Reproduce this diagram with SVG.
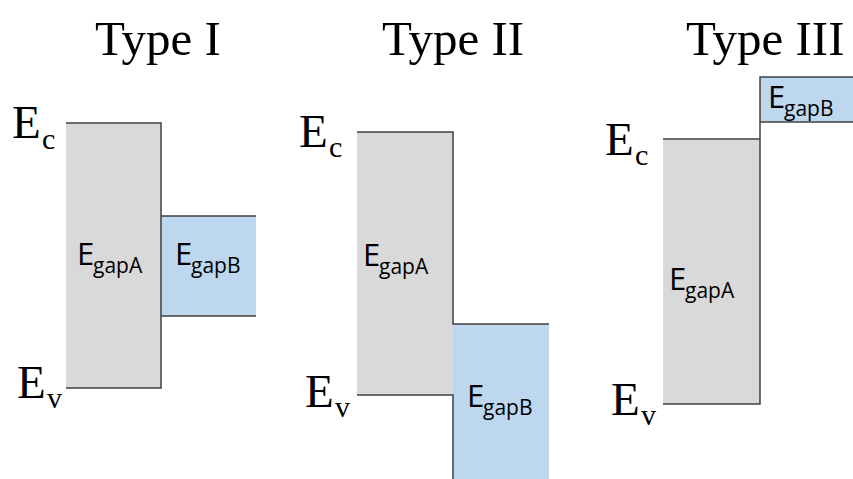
<svg xmlns="http://www.w3.org/2000/svg" width="853" height="479" viewBox="0 0 853 479">
<style>
.title{font-family:"Liberation Serif",serif;font-size:49px;fill:#000}
.lvl{font-family:"Liberation Serif",serif;font-size:47px;fill:#000}
.lsub{font-family:"Liberation Serif",serif;font-size:30px;fill:#000}
.gap{font-family:"Open Sans","Liberation Sans",sans-serif;font-size:31px;fill:#000}
.gsub{font-family:"Open Sans","Liberation Sans",sans-serif;font-size:21px;fill:#000}
.gA{fill:#d9d9d9}
.gB{fill:#bdd7ee}
.edge{fill:none;stroke:#404040;stroke-width:1.5}
</style>
<rect width="853" height="479" fill="#fff"/>

<g id="type1">
  <text class="title" x="95" y="55">Type I</text>
  <rect class="gA" x="66" y="123" width="95" height="265"/>
  <rect class="gB" x="161" y="216" width="95" height="100"/>
  <path class="edge" d="M66 123H161V216H256M161 216V316H256M161 316V388H66"/>
  <text class="lvl" x="12" y="138">E</text><text class="lsub" x="42" y="149">c</text>
  <text class="lvl" x="17" y="398">E</text><text class="lsub" x="47" y="408">v</text>
  <text class="gap" x="77" y="265">E</text><text class="gsub" x="93" y="273">gapA</text>
  <text class="gap" x="175" y="265">E</text><text class="gsub" x="191" y="273">gapB</text>
</g>

<g id="type2">
  <text class="title" x="382" y="55">Type II</text>
  <rect class="gA" x="357" y="132" width="96" height="263"/>
  <rect class="gB" x="453" y="324" width="96" height="155"/>
  <path class="edge" d="M357 132H453V324H549M357 395H453V479"/>
  <text class="lvl" x="299" y="147">E</text><text class="lsub" x="329" y="157">c</text>
  <text class="lvl" x="305" y="407">E</text><text class="lsub" x="335" y="417">v</text>
  <text class="gap" x="363" y="266">E</text><text class="gsub" x="379" y="274">gapA</text>
  <text class="gap" x="467" y="407">E</text><text class="gsub" x="483" y="415">gapB</text>
</g>

<g id="type3">
  <text class="title" x="686" y="55">Type III</text>
  <rect class="gA" x="663" y="139" width="97" height="265"/>
  <rect class="gB" x="760" y="77" width="93" height="45"/>
  <path class="edge" d="M853 77H760V404H663M663 139H760M760 122H853"/>
  <text class="lvl" x="605" y="155">E</text><text class="lsub" x="635" y="165">c</text>
  <text class="lvl" x="611" y="415">E</text><text class="lsub" x="641" y="425">v</text>
  <text class="gap" x="669" y="290">E</text><text class="gsub" x="685" y="298">gapA</text>
  <text class="gap" x="768" y="108">E</text><text class="gsub" x="784" y="116">gapB</text>
</g>

<g id="connectors"></g>
</svg>
